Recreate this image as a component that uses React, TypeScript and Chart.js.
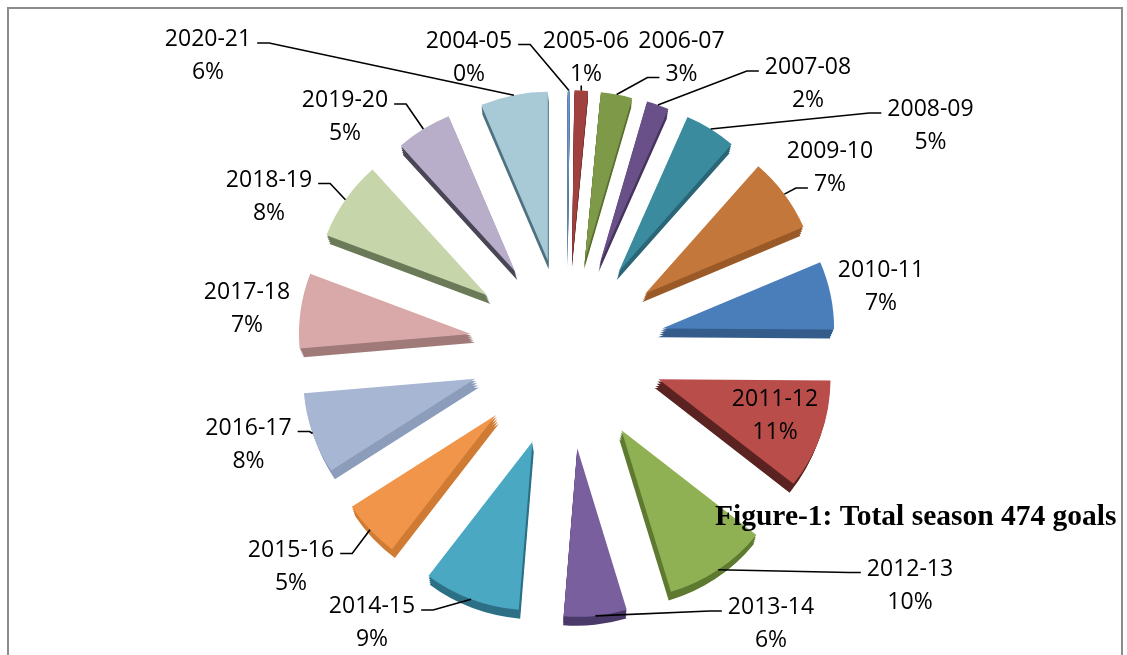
import React, { useEffect, useRef } from 'react';
import { Chart, registerables } from 'chart.js';

Chart.register(...registerables);

// ---------- data ----------
const seasons = [
  '2004-05', '2005-06', '2006-07', '2007-08', '2008-09', '2009-10', '2010-11', '2011-12',
  '2012-13', '2013-14', '2014-15', '2015-16', '2016-17', '2017-18', '2018-19', '2019-20', '2020-21',
];
const goals = [1, 6, 14, 10, 23, 34, 31, 50, 46, 28, 43, 26, 37, 34, 36, 25, 30];
const titleText = 'Figure-1: Total season 474 goals';

// ---------- styles ----------
const topColors = [
  '#6f93c8', '#a0413f', '#7e9a48', '#6a5088', '#3b8b9f', '#c4773a', '#4a7ebb', '#b94d4a',
  '#8fb153', '#7a5f9e', '#4aa8c2', '#f0954a', '#a6b6d3', '#d8a9a8', '#c6d5aa', '#b8aec9', '#a8cad6',
];
const sideColors = [
  '#3a5f8a', '#6e2c2a', '#5a7030', '#47355e', '#2a6677', '#9a5a28', '#355d8c', '#5a2321',
  '#5e7a30', '#4a3a6a', '#2d7086', '#d07b34', '#8c9dbb', '#a07a79', '#6b7a58', '#4a4656', '#4f7280',
];

// label layout: line-1 centre offset from pie centre, and leader attach mode
const labelLayout: [number, number, string][] = [
  [-98, -307.5, 'right1'],
  [19, -307.5, 'below'],
  [114.5, -307.5, 'left2'],
  [241, -281, 'left1'],
  [363.5, -239, 'left1'],
  [263, -197, 'left2'],
  [314, -78.5, 'none'],
  [208, 51, 'none'],
  [343, 220.5, 'left1'],
  [204, 259, 'left1'],
  [-195, 258, 'right1'],
  [-276, 201.5, 'right1'],
  [-318.5, 79.5, 'right1'],
  [-320, -56.5, 'none'],
  [-298, -168.5, 'right1'],
  [-222, -248, 'right1'],
  [-359, -309, 'right1'],
];

const RADIUS = 172;
const EXPLODE = 97;
const SCALE_Y = 0.98;
const PERSP = 7;
const SIDE_X = 4;
const SIDE_Y = 9;
const DEPTH_STEPS = [0, 0.25, 0.5, 0.75, 1];
const LABEL_FONT = '23px "Open Sans", Lato, sans-serif';
const LINE_GAP = 33;
const BASE_SHIFT = 8;
const GAP = 6;
const STUB = 12;

const total = goals.reduce((a, b) => a + b, 0);
const pctLabels = goals.map((g) => `${Math.round((g / total) * 100)}%`);

function centre(chart: any) {
  const { left, right, top, bottom } = chart.chartArea;
  return { cx: (left + right) / 2, cy: (top + bottom) / 2 };
}

const explodePlugin = {
  id: 'explode3d',
  beforeDatasetsDraw(chart: any) {
    const { cx, cy } = centre(chart);
    chart.data.datasets.forEach((_: any, di: number) => {
      const meta = chart.getDatasetMeta(di);
      const depth = DEPTH_STEPS[di] || 0;
      meta.data.forEach((arc: any) => {
        const mid = (arc.startAngle + arc.endAngle) / 2;
        const s = Math.sin(mid);
        arc.x = cx + Math.cos(mid) * EXPLODE - Math.cos(mid) * SIDE_X * depth;
        arc.y = cy + s * EXPLODE + PERSP * s * s + SIDE_Y * depth;
        arc.outerRadius = RADIUS;
        arc.innerRadius = 0;
      });
    });
    const ctx = chart.ctx as CanvasRenderingContext2D;
    ctx.save();
    ctx.translate(0, cy);
    ctx.scale(1, SCALE_Y);
    ctx.translate(0, -cy);
  },
  afterDatasetsDraw(chart: any) {
    chart.ctx.restore();
  },
};

const labelPlugin = {
  id: 'seasonLabels',
  afterDatasetsDraw(chart: any) {
    const ctx = chart.ctx as CanvasRenderingContext2D;
    const { cx, cy } = centre(chart);
    const meta = chart.getDatasetMeta(0);
    ctx.save();
    ctx.font = LABEL_FONT;
    ctx.fillStyle = '#000';
    ctx.strokeStyle = '#000';
    ctx.lineWidth = 1.6;
    ctx.textAlign = 'center';
    ctx.textBaseline = 'alphabetic';
    meta.data.forEach((arc: any, i: number) => {
      const mid = (arc.startAngle + arc.endAngle) / 2;
      const tx = arc.x + Math.cos(mid) * arc.outerRadius;
      const rawTy = arc.y + Math.sin(mid) * arc.outerRadius;
      const ty = cy + (rawTy - cy) * SCALE_Y;
      const [dx, dy, attach] = labelLayout[i];
      const lx = cx + dx;
      const l1 = cy + dy;
      const l2 = l1 + LINE_GAP;
      ctx.fillText(seasons[i], lx, l1 + BASE_SHIFT);
      ctx.fillText(pctLabels[i], lx, l2 + BASE_SHIFT);
      if (attach === 'none') return;
      ctx.beginPath();
      if (attach === 'below') {
        ctx.moveTo(tx, l2 + 13);
        ctx.lineTo(tx, ty);
      } else {
        const useLine2 = attach.endsWith('2');
        const text = useLine2 ? pctLabels[i] : seasons[i];
        const w = ctx.measureText(text).width;
        const y = (useLine2 ? l2 : l1) + 5;
        if (attach.startsWith('right')) {
          const sx = lx + w / 2 + GAP;
          ctx.moveTo(sx, y);
          ctx.lineTo(sx + STUB, y);
        } else {
          const sx = lx - w / 2 - GAP;
          ctx.moveTo(sx, y);
          ctx.lineTo(sx - STUB, y);
        }
        ctx.lineTo(tx, ty);
      }
      ctx.stroke();
    });
    ctx.restore();
  },
  afterDraw(chart: any) {
    const ctx = chart.ctx as CanvasRenderingContext2D;
    ctx.save();
    ctx.font = 'bold 29.5px "Liberation Serif", "Times New Roman", serif';
    ctx.fillStyle = '#000';
    ctx.textAlign = 'left';
    ctx.textBaseline = 'alphabetic';
    ctx.fillText(titleText, 715, 525);
    ctx.restore();
  },
};

export default function App() {
  const ref = useRef<HTMLCanvasElement | null>(null);
  useEffect(() => {
    if (!ref.current) return;
    const datasets = DEPTH_STEPS.map((d, i) => ({
      data: goals,
      backgroundColor: i === 0 ? topColors : sideColors,
      borderWidth: 0,
      clip: false as any,
    }));
    const chart = new Chart(ref.current, {
      type: 'pie',
      data: { labels: seasons, datasets },
      options: {
        responsive: false,
        animation: false,
        events: [],
        radius: RADIUS,
        layout: { padding: { left: 7, right: 0, top: 39, bottom: 0 } },
        plugins: { legend: { display: false }, tooltip: { enabled: false } },
      } as any,
      plugins: [explodePlugin, labelPlugin],
    });
    return () => chart.destroy();
  }, []);
  return (
    <div style={{ position: 'fixed', left: 0, top: 0, width: 1127, height: 655, overflow: 'hidden', background: '#fff' }}>
      <div
        style={{
          position: 'absolute',
          left: 7,
          top: 7,
          width: 1112,
          height: 720,
          border: '2px solid #8c8c8c',
        }}
      />
      <canvas ref={ref} width={1127} height={655} style={{ position: 'absolute', left: 0, top: 0 }} />
    </div>
  );
}
